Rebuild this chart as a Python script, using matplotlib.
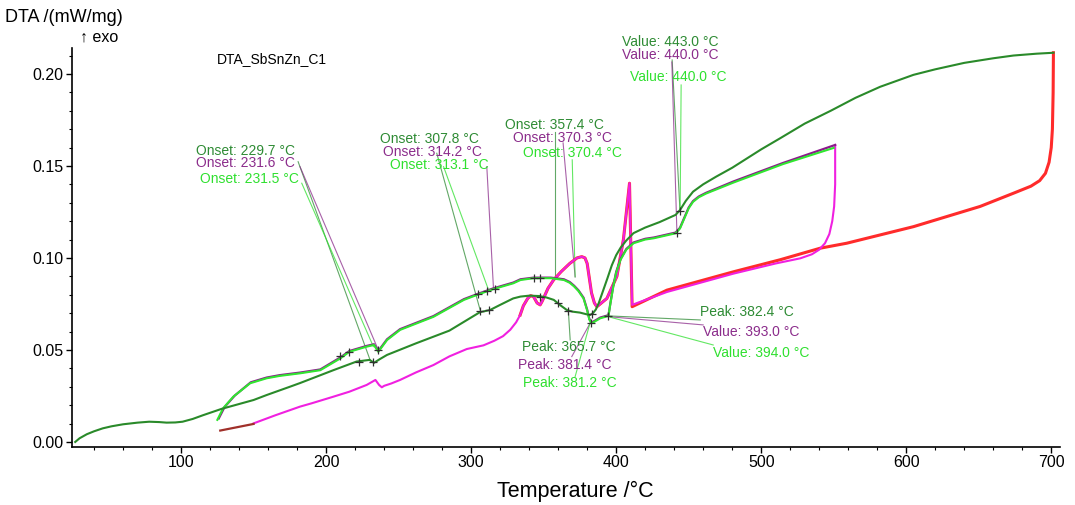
import numpy as np
import matplotlib
matplotlib.use("Agg")
import matplotlib.pyplot as plt
from matplotlib.ticker import MultipleLocator, FormatStrFormatter

plt.rcParams['font.family'] = ['Liberation Sans', 'DejaVu Sans']

# --- datos ---
# calentamiento 1 (verde oscuro), 25 -> 700 C
dg_T = [27, 30, 35, 40, 46, 52, 60, 70, 78, 85, 90, 96, 101, 108, 115, 128, 150, 159, 175,
        182, 205, 221, 230, 233, 237, 242, 262, 285, 306, 313, 320, 329, 334, 340, 347, 352,
        357, 362, 366, 370, 375, 380, 382, 384, 386, 388, 390, 394, 397, 400, 403, 407, 412,
        420, 430, 441, 444, 448, 453, 460, 469, 480, 490, 500, 513, 530, 548, 565, 582, 605,
        620, 640, 660, 674, 690, 701.5]
dg_y = [0.0, 0.002, 0.0042, 0.0058, 0.0074, 0.0085, 0.0096, 0.0105, 0.011, 0.0108, 0.0105,
        0.0106, 0.011, 0.0125, 0.0145, 0.018, 0.0228, 0.0255, 0.030, 0.032, 0.039, 0.0437,
        0.0446, 0.043, 0.045, 0.0473, 0.0536, 0.0605, 0.0705, 0.0717, 0.0745, 0.078, 0.079,
        0.0795, 0.0793, 0.0785, 0.0772, 0.074, 0.0717, 0.0708, 0.0703, 0.0693, 0.069, 0.070,
        0.072, 0.0755, 0.080, 0.089, 0.096, 0.1015, 0.1055, 0.1095, 0.1135, 0.1165, 0.1195,
        0.1234, 0.126, 0.131, 0.136, 0.140, 0.1442, 0.149, 0.154, 0.159, 0.165, 0.173, 0.180,
        0.187, 0.193, 0.1995, 0.2025, 0.206, 0.2085, 0.210, 0.211, 0.2115]

# calentamiento 2 (verde claro), 125 -> 550 C
lg_T = [125, 129, 136, 147.6, 159, 168, 182, 196, 210, 216, 228, 233, 236, 242, 251, 274,
        295, 304, 315, 329, 334, 343, 355, 364, 368, 371, 374, 377.5, 380, 381.5, 383, 386,
        389, 394.7, 396, 398, 400, 403, 407, 412, 420, 426, 441, 444, 447, 450, 453, 457, 462,
        481, 515, 550]
lg_y = [0.012, 0.0183, 0.0246, 0.0319, 0.0346, 0.0359, 0.0373, 0.039, 0.0455, 0.049, 0.0518,
        0.0527, 0.049, 0.0554, 0.0609, 0.068, 0.0772, 0.0799, 0.083, 0.0862, 0.088, 0.089,
        0.089, 0.088, 0.0865, 0.0845, 0.082, 0.078, 0.0715, 0.0665, 0.0645, 0.0658, 0.0672,
        0.0685, 0.075, 0.0844, 0.092, 0.099, 0.1045, 0.108, 0.110, 0.1107, 0.1134, 0.116,
        0.1215, 0.127, 0.1305, 0.133, 0.135, 0.141, 0.151, 0.1598]

# calentamiento 2 (morado), casi superpuesto al verde claro
pu_T = [126, 130, 137, 148, 159, 168, 182, 196, 210, 216, 228, 233, 236, 242, 251, 274,
        295, 304, 315, 329, 334, 343, 355, 364, 368, 371, 374, 377.5, 380, 381.5, 383, 386,
        389, 394.7, 396, 398, 400, 403, 407, 412, 420, 426, 441, 444, 447, 450, 453, 457, 462,
        481, 515, 551]
pu_y = [0.0128, 0.019, 0.0252, 0.0324, 0.035, 0.0363, 0.0377, 0.0394, 0.046, 0.0494, 0.0522,
        0.0531, 0.0494, 0.0558, 0.0613, 0.0684, 0.0776, 0.0803, 0.0834, 0.0866, 0.0884, 0.0893,
        0.0893, 0.0884, 0.0869, 0.0849, 0.0824, 0.0784, 0.0719, 0.0669, 0.0649, 0.0662, 0.0676,
        0.0689, 0.0754, 0.0848, 0.0924, 0.0994, 0.1049, 0.1084, 0.1104, 0.1111, 0.1138, 0.1164,
        0.1219, 0.1274, 0.1309, 0.1334, 0.1354, 0.1416, 0.1516, 0.1614]

# enfriamiento desde 700 C (rojo), tramo alto
rd_T = [701.5, 701.3, 700.8, 700, 698.5, 696, 692, 686, 675, 651, 605, 559, 540.7, 513, 481,
        435, 411]
rd_y = [0.2115, 0.190, 0.170, 0.160, 0.152, 0.146, 0.142, 0.139, 0.1355, 0.128, 0.117, 0.108,
        0.1053, 0.099, 0.0925, 0.0825, 0.0735]

# enfriamiento desde 550 C (magenta), tramo alto
mg_T = [551, 551, 550.3, 549, 547, 544, 540, 535, 527, 510, 481, 435, 411]
mg_y = [0.1614, 0.140, 0.128, 0.120, 0.113, 0.108, 0.1045, 0.102, 0.0998, 0.097, 0.0915,
        0.0815, 0.0745]

# tramo comun de ambos enfriamientos por debajo de 410 C
cl_T = [409.2, 405, 400.5, 393.6, 386.7, 385, 383, 381.5, 380, 378.5, 376.3, 373, 368, 362,
        356.8, 353, 351, 349, 347.6, 345.5, 343, 341, 339, 336, 333.8]
cl_y = [0.1406, 0.110, 0.090, 0.078, 0.0735, 0.0755, 0.081, 0.089, 0.097, 0.100, 0.1007,
        0.100, 0.097, 0.0925, 0.088, 0.0835, 0.080, 0.0765, 0.0745, 0.0755, 0.079, 0.0795,
        0.078, 0.074, 0.069]

# cola del magenta
mt_T = [331, 327, 322, 316, 308.5, 297, 285, 274, 262, 251, 245, 240, 238.4, 236.5, 234, 228,
        216, 205, 190, 182, 165, 150]
mt_y = [0.065, 0.061, 0.0575, 0.055, 0.0525, 0.0505, 0.0465, 0.0418, 0.0378, 0.0337, 0.0318,
        0.0305, 0.0297, 0.031, 0.0337, 0.031, 0.0273, 0.0246, 0.021, 0.0192, 0.0145, 0.0101]

# tramo marron al final
br_T = [150, 127]
br_y = [0.0098, 0.0062]

# marcas "+"
mk_T = [209.7, 215.9, 236, 223, 232.6, 306, 312, 304.6, 311, 316.6, 343, 347.6, 347.6, 360,
        367, 383, 382.5, 394.7, 441.9, 444]
mk_y = [0.0467, 0.049, 0.050, 0.0437, 0.0437, 0.0714, 0.0717, 0.0804, 0.0822, 0.083, 0.089,
        0.089, 0.079, 0.0754, 0.0714, 0.0696, 0.0645, 0.0685, 0.1134, 0.1255]

# anotaciones: texto, posicion del texto, extremo de la linea
c_dg = '#2e8b34'
c_pu = '#8b2c8b'
c_lg = '#2fe02f'
etiquetas = ["Onset: 229.7 °C", "Onset: 231.6 °C", "Onset: 231.5 °C",
             "Onset: 307.8 °C", "Onset: 314.2 °C", "Onset: 313.1 °C",
             "Onset: 357.4 °C", "Onset: 370.3 °C", "Onset: 370.4 °C",
             "Value: 443.0 °C", "Value: 440.0 °C", "Value: 440.0 °C",
             "Peak: 382.4 °C", "Value: 393.0 °C", "Value: 394.0 °C",
             "Peak: 365.7 °C", "Peak: 381.4 °C", "Peak: 381.2 °C"]
colores = [c_dg, c_pu, c_lg] * 6
txt_T = [110.3, 110.3, 113.1, 237.2, 239.3, 244.1, 323.4, 329, 335.9,
         404.1, 404.1, 409.7, 457.9, 460, 466.9, 335.2, 332.4, 335.9]
txt_y = [0.1582, 0.1516, 0.1429, 0.1647, 0.1576, 0.1506, 0.1723, 0.1652, 0.1571,
         0.2174, 0.2103, 0.1984, 0.0707, 0.0598, 0.0484, 0.0516, 0.0418, 0.0321]
l0_T = [180.7, 182, 183.2, 276.3, 310.8, 281, 358, 363.4, 369.7,
        438.6, 438.4, 444.8, 458, 460, 466.9, 367, 382, 382]
l0_y = [0.1523, 0.1496, 0.1406, 0.1569, 0.1496, 0.1496, 0.1686, 0.1625, 0.1533,
        0.2076, 0.2065, 0.194, 0.0663, 0.0636, 0.0527, 0.0717, 0.0645, 0.0647]
l1_T = [230.3, 236, 232.6, 306.2, 315.4, 312, 358, 371.7, 371.7,
        444, 441.9, 444.1, 394.7, 395.9, 395.9, 368.3, 369.4, 371.7]
l1_y = [0.0446, 0.050, 0.0518, 0.0717, 0.0835, 0.0826, 0.089, 0.0897, 0.0897,
        0.1255, 0.1134, 0.1255, 0.0685, 0.068, 0.0678, 0.0554, 0.0464, 0.0355]

# --- grafica ---
fig = plt.figure(figsize=(10.75, 5.05), dpi=100)
ax = fig.add_axes([0.067, 0.115, 0.919, 0.79])

# lineas guia
for i in range(len(etiquetas)):
    ax.plot([l0_T[i], l1_T[i]], [l0_y[i], l1_y[i]], color=colores[i], lw=0.8,
            alpha=0.75, clip_on=False, zorder=1)
    ax.text(txt_T[i], txt_y[i], etiquetas[i], color=colores[i], fontsize=10,
            ha='left', va='center', clip_on=False)

# curvas de enfriamiento
ax.plot(rd_T + cl_T, rd_y + cl_y, color='#ff2b2b', lw=2.2, zorder=2)
ax.plot(mg_T + cl_T + mt_T, mg_y + cl_y + mt_y, color='#f020e0', lw=1.5, zorder=3)
ax.plot(br_T, br_y, color='#a0302a', lw=1.6, zorder=3)
# curvas de calentamiento
ax.plot(pu_T, pu_y, color='#8b1a8b', lw=1.6, zorder=4)
ax.plot(lg_T, lg_y, color='#30e630', lw=1.5, zorder=5)
ax.plot(dg_T, dg_y, color='#2a8a2a', lw=1.5, zorder=6)
ax.plot(mk_T, mk_y, '+', color='#303030', ms=6, mew=0.9, zorder=7)

ax.set_xlim(24.8, 706)
ax.set_ylim(-0.0027, 0.2141)
ax.xaxis.set_major_locator(MultipleLocator(100))
ax.xaxis.set_minor_locator(MultipleLocator(20))
ax.yaxis.set_major_locator(MultipleLocator(0.05))
ax.yaxis.set_minor_locator(MultipleLocator(0.01))
ax.yaxis.set_major_formatter(FormatStrFormatter('%.2f'))
ax.tick_params(which='major', length=4, width=1, labelsize=11.5, pad=2)
ax.tick_params(which='minor', length=2.5, width=0.8)
for lado in ['top', 'right']:
    ax.spines[lado].set_visible(False)
for lado in ['left', 'bottom']:
    ax.spines[lado].set_linewidth(1.2)

fig.text(0.005, 0.966, "DTA /(mW/mg)", fontsize=13, ha='left', va='center')
fig.text(0.0744, 0.927, "↑ exo", fontsize=11.5, ha='left', va='center')
fig.text(0.202, 0.883, "DTA_SbSnZn_C1", fontsize=10, ha='left', va='center')
fig.text(0.535, 0.026, "Temperature /°C", fontsize=15.5, ha='center', va='center')

fig.savefig("out.png", dpi=100)
